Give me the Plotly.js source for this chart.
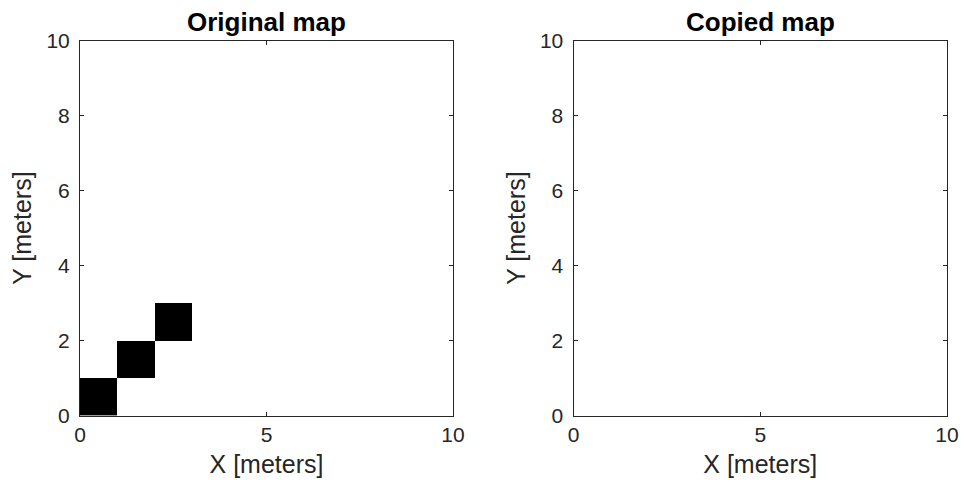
<!DOCTYPE html>
<html>
<head>
<meta charset="utf-8">
<script src="https://cdn.plot.ly/plotly-3.0.1.min.js"></script>
<style>html,body{margin:0;padding:0;background:#fff;}#chart{width:964px;height:485px;}</style>
</head>
<body>
<div id="chart"></div>
<script>
// Cell centres (meters), 1 cell per meter on a 10 x 10 m map
const cellCenters = [0.5, 1.5, 2.5, 3.5, 4.5, 5.5, 6.5, 7.5, 8.5, 9.5];
// Occupancy grids, row i = Y cell i (bottom to top), 1 = occupied
const originalOccupancy = [
  [1,0,0,0,0,0,0,0,0,0],
  [0,1,0,0,0,0,0,0,0,0],
  [0,0,1,0,0,0,0,0,0,0],
  [0,0,0,0,0,0,0,0,0,0],
  [0,0,0,0,0,0,0,0,0,0],
  [0,0,0,0,0,0,0,0,0,0],
  [0,0,0,0,0,0,0,0,0,0],
  [0,0,0,0,0,0,0,0,0,0],
  [0,0,0,0,0,0,0,0,0,0],
  [0,0,0,0,0,0,0,0,0,0]
];
const copiedOccupancy = [
  [0,0,0,0,0,0,0,0,0,0],
  [0,0,0,0,0,0,0,0,0,0],
  [0,0,0,0,0,0,0,0,0,0],
  [0,0,0,0,0,0,0,0,0,0],
  [0,0,0,0,0,0,0,0,0,0],
  [0,0,0,0,0,0,0,0,0,0],
  [0,0,0,0,0,0,0,0,0,0],
  [0,0,0,0,0,0,0,0,0,0],
  [0,0,0,0,0,0,0,0,0,0],
  [0,0,0,0,0,0,0,0,0,0]
];
const subplotTitles = ['Original map', 'Copied map'];
const xTicks = [0, 5, 10];
const yTicks = [0, 2, 4, 6, 8, 10];
const xLabel = 'X [meters]';
const yLabel = 'Y [meters]';

const FONT = 'Arial, "Liberation Sans", Helvetica, sans-serif';
const INK = '#262626';
const cs = [[0, '#ffffff'], [1, '#000000']];

const traces = [
  {type: 'heatmap', x: cellCenters, y: cellCenters, z: originalOccupancy, zmin: 0, zmax: 1,
   colorscale: cs, showscale: false, xaxis: 'x', yaxis: 'y', hoverinfo: 'skip'},
  {type: 'heatmap', x: cellCenters, y: cellCenters, z: copiedOccupancy, zmin: 0, zmax: 1,
   colorscale: cs, showscale: false, xaxis: 'x2', yaxis: 'y2', hoverinfo: 'skip'}
];

function xax(domain, anchor) {
  return {domain: domain, anchor: anchor, range: [0, 10], tickvals: xTicks, ticktext: xTicks.map(String),
    ticks: 'inside', ticklen: 4, tickwidth: 1, tickcolor: INK, mirror: 'ticks', showline: true,
    linecolor: INK, linewidth: 1, showgrid: false, zeroline: false,
    tickfont: {family: FONT, size: 21, color: INK},
    title: {text: xLabel, font: {family: FONT, size: 25, color: INK}, standoff: 10}};
}
function yax(domain, anchor) {
  return {domain: domain, anchor: anchor, range: [0, 10], tickvals: yTicks, ticktext: yTicks.map(String),
    ticks: 'inside', ticklen: 4, tickwidth: 1, tickcolor: INK, mirror: 'ticks', showline: true,
    linecolor: INK, linewidth: 1, showgrid: false, zeroline: false, ticklabelstandoff: 5,
    tickfont: {family: FONT, size: 21, color: INK},
    title: {text: yLabel, font: {family: FONT, size: 25, color: INK}, standoff: 7}};
}

const yDom = [1 - 415.7 / 485, 1 - 40.5 / 485];
const layout = {
  width: 964, height: 485,
  margin: {l: 0, r: 0, t: 0, b: 0},
  paper_bgcolor: '#ffffff', plot_bgcolor: '#ffffff',
  showlegend: false,
  xaxis: xax([80 / 964, 453 / 964], 'y'),
  yaxis: yax(yDom, 'x'),
  xaxis2: xax([573.5 / 964, 947 / 964], 'y2'),
  yaxis2: yax(yDom, 'x2'),
  annotations: [
    {text: '<b>' + subplotTitles[0] + '</b>', xref: 'paper', yref: 'paper', x: (80 + 453) / 2 / 964, y: 1 - 22 / 485,
     xanchor: 'center', yanchor: 'middle', showarrow: false, font: {family: FONT, size: 26, color: '#000000'}},
    {text: '<b>' + subplotTitles[1] + '</b>', xref: 'paper', yref: 'paper', x: (573.5 + 947) / 2 / 964, y: 1 - 22 / 485,
     xanchor: 'center', yanchor: 'middle', showarrow: false, font: {family: FONT, size: 26, color: '#000000'}}
  ]
};

Plotly.newPlot('chart', traces, layout, {staticPlot: true, displayModeBar: false});
</script>
</body>
</html>
